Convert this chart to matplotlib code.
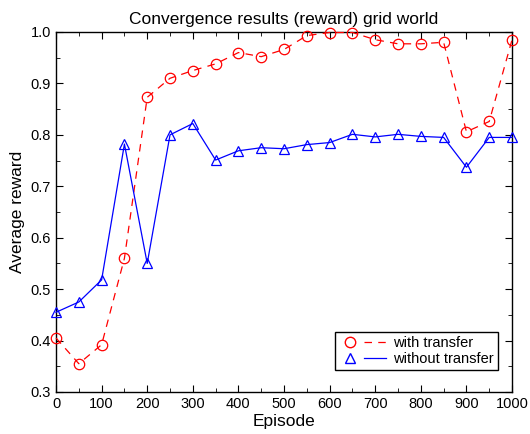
import matplotlib
matplotlib.use("Agg")
import matplotlib.pyplot as plt
from matplotlib.lines import Line2D
from matplotlib.legend_handler import HandlerTuple
from matplotlib.ticker import MultipleLocator

# -----------------------------
# Data
# -----------------------------
episodes = [0, 50, 100, 150, 200, 250, 300, 350, 400, 450, 500,
            550, 600, 650, 700, 750, 800, 850, 900, 950, 1000]

with_transfer = [0.405, 0.355, 0.392, 0.560, 0.873, 0.910, 0.925, 0.938,
                 0.960, 0.952, 0.966, 0.993, 0.999, 0.999, 0.985, 0.977,
                 0.977, 0.980, 0.806, 0.826, 0.985]

without_transfer = [0.455, 0.475, 0.518, 0.782, 0.550, 0.800, 0.822, 0.751,
                    0.769, 0.775, 0.773, 0.781, 0.785, 0.801, 0.796, 0.801,
                    0.797, 0.795, 0.737, 0.795, 0.795]

plt.rcParams["font.family"] = ["Liberation Sans", "DejaVu Sans"]

# -----------------------------
# Plot
# -----------------------------
fig = plt.figure(figsize=(5.3, 4.34), dpi=100)
ax = fig.add_axes([0.1057, 0.0968, 0.8604, 0.8295])

ax.plot(episodes, with_transfer, color="red", linestyle=(0, (6, 5)),
        linewidth=0.9, marker="o", markersize=7.5, markerfacecolor="none",
        markeredgecolor="red", markeredgewidth=0.9, clip_on=False, zorder=3)

ax.plot(episodes, without_transfer, color="blue", linestyle="-",
        linewidth=0.9, marker="^", markersize=7.5, markerfacecolor="none",
        markeredgecolor="blue", markeredgewidth=0.9, clip_on=False, zorder=3)

ax.set_xlim(0, 1000)
ax.set_ylim(0.3, 1.0)
ax.xaxis.set_major_locator(MultipleLocator(100))
ax.xaxis.set_minor_locator(MultipleLocator(50))
ax.yaxis.set_major_locator(MultipleLocator(0.1))
ax.yaxis.set_minor_locator(MultipleLocator(0.05))
ax.tick_params(which="both", direction="in", top=True, right=True,
               labelsize=10.5)
ax.tick_params(which="major", length=5)
ax.tick_params(which="minor", length=3)

for spine in ax.spines.values():
    spine.set_linewidth(1)

ax.set_title("Convergence results (reward) grid world", fontsize=12.5)
ax.set_xlabel("Episode", fontsize=12.5, labelpad=2)
ax.set_ylabel("Average reward", fontsize=12.5)

# legend: marker followed by line sample
red_m = Line2D([], [], color="red", marker="o", markersize=7.5,
               markerfacecolor="none", linestyle="none")
red_l = Line2D([], [], color="red", linestyle=(0, (6, 5)), linewidth=0.9)
blue_m = Line2D([], [], color="blue", marker="^", markersize=7.5,
                markerfacecolor="none", linestyle="none")
blue_l = Line2D([], [], color="blue", linestyle="-", linewidth=0.9)

leg = ax.legend([(red_m, red_l), (blue_m, blue_l)],
                ["with transfer", "without transfer"],
                handler_map={tuple: HandlerTuple(ndivide=None, pad=0.2)},
                loc="lower right", bbox_to_anchor=(0.985, 0.04),
                fontsize=10.5, fancybox=False, framealpha=1,
                edgecolor="black", handlelength=3.2, handletextpad=0.5,
                borderpad=0.3, labelspacing=0.1)
leg.get_frame().set_linewidth(1)

plt.savefig("out.png", dpi=100)
plt.close()
